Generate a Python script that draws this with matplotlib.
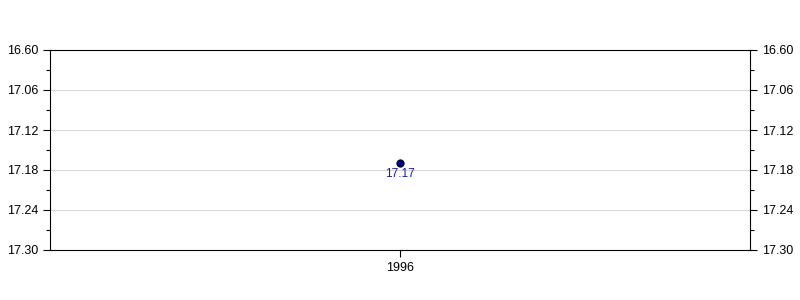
import matplotlib.pyplot as plt
from matplotlib.ticker import FixedLocator

plt.rcParams['font.family'] = ['Liberation Sans', 'DejaVu Sans']

#------------ Data ------------#
years = ['1996']
values = [17.17]
y_ticks = [17.00, 17.06, 17.12, 17.18, 17.24, 17.30]
y_labels = ['16.60', '17.06', '17.12', '17.18', '17.24', '17.30']
y_minor = [17.03, 17.09, 17.15, 17.21, 17.27]

#------------ Figure ------------#
fig = plt.figure(figsize=(8, 3), dpi=100)
ax = fig.add_axes([0.0625, 1/6, 0.875, 2/3])

xs = list(range(len(years)))
ax.scatter(xs, values, s=28, color='#000080', edgecolor='black', linewidth=0.6, zorder=3)
for x, v in zip(xs, values):
    ax.annotate(f'{v:.2f}', (x, v), xytext=(0, -7.5), textcoords='offset points',
                ha='center', va='center', fontsize=8.5, color='#1a1aa6')

ax.set_xlim(-0.5, 0.5)
ax.set_xticks(xs)
ax.set_xticklabels(years)
ax.set_ylim(17.30, 17.00)
ax.yaxis.set_major_locator(FixedLocator(y_ticks))
ax.set_yticklabels(y_labels)
ax.yaxis.set_minor_locator(FixedLocator(y_minor))
ax.grid(axis='y', color='#d9d9d9', linewidth=0.8)
ax.set_axisbelow(True)

ax.tick_params(axis='y', which='major', length=5, width=0.8, left=True, right=True,
               labelleft=True, labelright=True, labelsize=9)
ax.tick_params(axis='y', which='minor', length=3, width=0.8, left=True, right=True)
ax.tick_params(axis='x', length=5, width=0.8, labelsize=9)
for sp in ax.spines.values():
    sp.set_linewidth(0.8)

fig.savefig('out.png', dpi=100)
